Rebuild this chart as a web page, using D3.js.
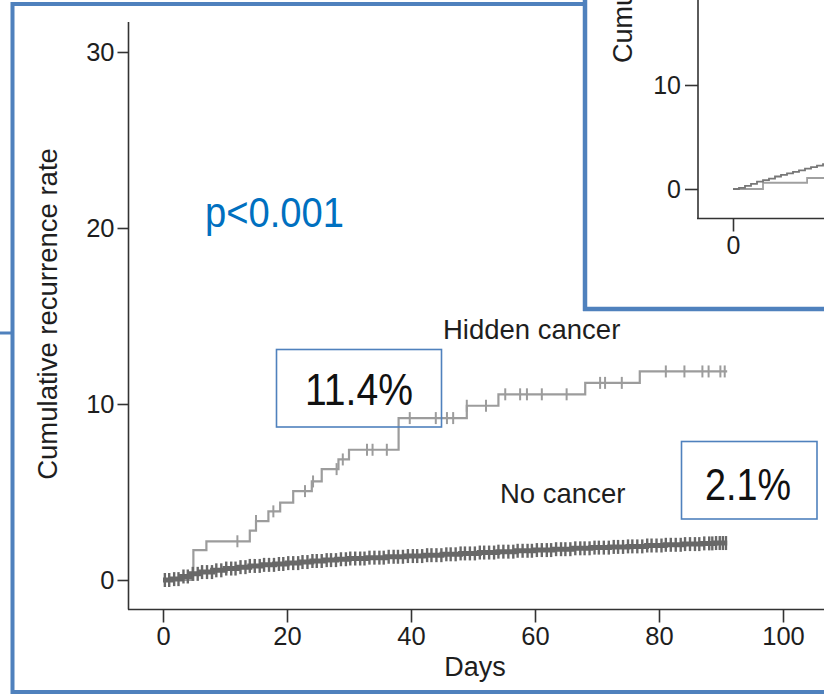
<!DOCTYPE html>
<html>
<head>
<meta charset="utf-8">
<script src="https://cdn.jsdelivr.net/npm/d3@7/dist/d3.min.js"></script>
<style>
  html, body { margin: 0; padding: 0; background: #fff; }
  svg { display: block; }
  text { font-family: "Liberation Sans", Arial, Helvetica, sans-serif; }
</style>
</head>
<body>
<svg id="chart" width="824" height="695"></svg>
<script>
// ---- Data -------------------------------------------------------------
const xTicks = [0, 20, 40, 60, 80, 100];
const yTicks = [0, 10, 20, 30];

// Hidden cancer: Kaplan-Meier style steps [day, cumulative %]
const hiddenSteps = [
  [0, 0], [4.9, 1.7], [7.0, 2.2], [14.0, 2.8], [15.0, 3.35], [17.0, 3.9],
  [18.9, 4.4], [21.0, 5.05], [24.0, 5.6], [25.6, 6.3], [28.3, 6.85],
  [30.0, 7.4], [38.0, 9.2], [49.0, 9.9], [54.1, 10.55], [68.1, 11.2],
  [76.9, 11.85]
];
const hiddenEnd = 91.0;
const hiddenCensor = [
  12.0, 15.0, 17.8, 22.9, 24.2, 28.0, 29.0, 32.9, 33.8, 36.1, 39.8,
  44.0, 45.8, 46.8, 49.0, 52.1, 55.2, 57.6, 58.7, 61.1, 65.1, 70.5,
  71.3, 74.0, 81.1, 84.1, 87.0, 88.0, 89.9, 90.6
];

// No cancer: many small steps
const noCancerSteps = [
  [0, 0], [1.5, 0.05], [3, 0.2], [4.5, 0.35], [6, 0.45], [8, 0.55],
  [10, 0.65], [12, 0.73], [14, 0.8], [16, 0.86], [18, 0.91], [20, 0.96],
  [22, 1.02], [24, 1.08], [26, 1.13], [28, 1.18], [30, 1.22], [33, 1.27],
  [36, 1.32], [39, 1.36], [42, 1.41], [45, 1.46], [48, 1.51], [51, 1.56],
  [54, 1.61], [57, 1.66], [60, 1.7], [63, 1.75], [66, 1.8], [69, 1.84],
  [72, 1.88], [75, 1.91], [78, 1.96], [81, 2.0], [84, 2.04], [87, 2.08],
  [89, 2.1]
];
const noCancerEnd = 91.0;
const noCancerCensor = [
  0.3, 1.0, 1.8, 2.5, 3.3, 4.0, 4.8, 5.6, 6.3, 7.1, 7.9, 8.6, 9.4, 10.2,
  11.0, 11.7, 12.5, 13.3, 14.0, 14.8, 15.6, 16.3, 17.1, 17.9, 18.7, 19.4,
  20.2, 21.0, 21.8, 22.5, 23.3, 24.1, 24.8, 25.6, 26.4, 27.1, 27.9, 28.7,
  29.5, 30.2, 31.0, 31.8, 32.5, 33.3, 34.1, 34.9, 35.6, 36.4, 37.2, 37.9,
  38.7, 39.5, 40.3, 41.0, 41.8, 42.6, 43.3, 44.1, 44.9, 45.7, 46.4, 47.2,
  48.0, 48.7, 49.5, 50.3, 51.1, 51.8, 52.6, 53.4, 54.1, 54.9, 55.7, 56.5,
  57.2, 58.0, 58.8, 59.5, 60.3, 61.1, 61.9, 62.6, 63.4, 64.2, 64.9, 65.7,
  66.5, 67.3, 68.0, 68.8, 69.6, 70.3, 71.1, 71.9, 72.7, 73.4, 74.2, 75.0,
  75.7, 76.5, 77.3, 78.1, 78.8, 79.6, 80.4, 81.1, 81.9, 82.7, 83.5, 84.2,
  85.0, 85.8, 86.5, 87.3, 88.1, 88.6, 89.2, 89.8, 90.3, 90.8
];

const seriesLabels = ["Hidden cancer", "No cancer"];
const rateLabels = ["11.4%", "2.1%"];
const pValueLabel = "p<0.001";

// Inset panel (partially visible)
const insetYTicks = [0, 10];
const insetXTicks = [0];
const insetUpper = [
  [0, 0], [2, 0.1], [4, 0.3], [6, 0.5], [8, 0.7], [10, 0.85], [12, 1.0],
  [14, 1.2], [16, 1.35], [18, 1.5], [20, 1.65], [22, 1.8], [24, 1.95],
  [26, 2.1], [28, 2.25], [30, 2.4], [31, 2.5]
];
const insetLower = [[0, 0], [10, 0.6], [24.7, 1.06]];
const insetEnd = 40;

// ---- Layout -----------------------------------------------------------
const svg = d3.select("#chart");
const frameBlue = "#4f81bd";

const x = d3.scaleLinear().domain([0, 100]).range([163, 783]);
const y = d3.scaleLinear().domain([0, 30]).range([580, 52]);
const axisColor = "#333";
const textColor = "#1e1e1e";

function valueAt(steps, d) {
  const i = d3.bisector(s => s[0]).right(steps, d) - 1;
  return steps[Math.max(0, i)][1];
}

// Outer frame of the panel
const frame = svg.append("g").attr("fill", "none").attr("stroke", frameBlue);
frame.append("line").attr("x1", 11).attr("x2", 600).attr("y1", 4).attr("y2", 4).attr("stroke-width", 4);
frame.append("line").attr("x1", 12.5).attr("x2", 12.5).attr("y1", 2).attr("y2", 694).attr("stroke-width", 4);
frame.append("line").attr("x1", 11).attr("x2", 824).attr("y1", 692).attr("y2", 692).attr("stroke-width", 4);
frame.append("line").attr("x1", 0).attr("x2", 12).attr("y1", 333).attr("y2", 333).attr("stroke-width", 3);

// ---- Axes -------------------------------------------------------------
const axes = svg.append("g");
axes.append("line")
  .attr("x1", 128.5).attr("x2", 128.5)
  .attr("y1", 22).attr("y2", 609.5)
  .attr("stroke", axisColor).attr("stroke-width", 1.6);
axes.append("line")
  .attr("x1", 128).attr("x2", 824)
  .attr("y1", 609.5).attr("y2", 609.5)
  .attr("stroke", axisColor).attr("stroke-width", 1.6);

const yAxis = d3.axisLeft(y).tickValues(yTicks).tickSize(11).tickPadding(3);
const gy = axes.append("g").attr("transform", "translate(128.5,0)").call(yAxis);
gy.select(".domain").remove();
gy.selectAll(".tick line").attr("stroke", axisColor).attr("stroke-width", 1.6);
gy.selectAll(".tick text")
  .attr("fill", textColor).attr("font-size", 25.5)
  .attr("font-family", "'Liberation Sans', Arial, sans-serif");

const xAxis = d3.axisBottom(x).tickValues(xTicks).tickSize(13).tickPadding(4);
const gx = axes.append("g").attr("transform", "translate(0,609.5)").call(xAxis);
gx.select(".domain").remove();
gx.selectAll(".tick line").attr("stroke", axisColor).attr("stroke-width", 1.6);
gx.selectAll(".tick text")
  .attr("fill", textColor).attr("font-size", 25.5)
  .attr("font-family", "'Liberation Sans', Arial, sans-serif");

axes.append("text")
  .attr("x", 475).attr("y", 676)
  .attr("text-anchor", "middle").attr("font-size", 27).attr("fill", textColor)
  .text("Days");

axes.append("text")
  .attr("transform", "translate(57,314) rotate(-90)")
  .attr("text-anchor", "middle").attr("font-size", 27.5).attr("fill", textColor)
  .text("Cumulative recurrence rate");

// ---- Curves -----------------------------------------------------------
const stepLine = d3.line().x(d => x(d[0])).y(d => y(d[1])).curve(d3.curveStepAfter);

function drawSeries(steps, end, censor, color, width, tickH, tickW) {
  const g = svg.append("g");
  const pts = steps.concat([[end, steps[steps.length - 1][1]]]);
  g.append("path").datum(pts)
    .attr("d", stepLine).attr("fill", "none")
    .attr("stroke", color).attr("stroke-width", width);
  g.selectAll("line.censor").data(censor).join("line")
    .attr("class", "censor")
    .attr("x1", d => x(d)).attr("x2", d => x(d))
    .attr("y1", d => y(valueAt(steps, d)) - tickH / 2)
    .attr("y2", d => y(valueAt(steps, d)) + tickH / 2)
    .attr("stroke", color).attr("stroke-width", tickW);
}

drawSeries(hiddenSteps, hiddenEnd, hiddenCensor, "#9c9c9c", 2.2, 12, 2);
drawSeries(noCancerSteps, noCancerEnd, noCancerCensor, "#686868", 5, 14, 2.4);

// ---- Labels -----------------------------------------------------------
svg.append("text")
  .attr("x", 443).attr("y", 339).attr("font-size", 27.5).attr("fill", textColor)
  .text(seriesLabels[0]);
svg.append("text")
  .attr("x", 500).attr("y", 503).attr("font-size", 27.5).attr("fill", textColor)
  .text(seriesLabels[1]);

svg.append("text")
  .attr("x", 205).attr("y", 227)
  .attr("font-family", "'Noto Sans', 'Open Sans', sans-serif")
  .attr("font-size", 43).attr("font-weight", 500).attr("fill", "#0070c0")
  .attr("textLength", 139).attr("lengthAdjust", "spacingAndGlyphs")
  .text(pValueLabel);

const boxes = [
  { label: rateLabels[0], x0: 276.5, y0: 349.5, x1: 441.5, y1: 427, tx: 305, ty: 405, tw: 108 },
  { label: rateLabels[1], x0: 681.5, y0: 441.5, x1: 817, y1: 519, tx: 705, ty: 500, tw: 86 }
];
boxes.forEach(b => {
  svg.append("rect")
    .attr("x", b.x0).attr("y", b.y0)
    .attr("width", b.x1 - b.x0).attr("height", b.y1 - b.y0)
    .attr("fill", "none").attr("stroke", frameBlue).attr("stroke-width", 1.6);
  svg.append("text")
    .attr("x", b.tx).attr("y", b.ty)
    .attr("font-family", "'Noto Sans', 'Open Sans', sans-serif")
    .attr("font-size", 45).attr("fill", "#111")
    .attr("textLength", b.tw).attr("lengthAdjust", "spacingAndGlyphs")
    .text(b.label);
});

// ---- Inset panel ------------------------------------------------------
const inset = svg.append("g");
inset.append("clipPath").attr("id", "insetClip")
  .append("rect").attr("x", 585).attr("y", 0).attr("width", 239).attr("height", 309);
const ig = inset.append("g").attr("clip-path", "url(#insetClip)");
ig.append("rect").attr("x", 585).attr("y", 0).attr("width", 239).attr("height", 309).attr("fill", "#fff");

const ix = d3.scaleLinear().domain([0, 50]).range([733, 883]);
const iy = d3.scaleLinear().domain([0, 10]).range([189, 85]);

ig.append("line").attr("x1", 698).attr("x2", 698).attr("y1", 0).attr("y2", 218.5)
  .attr("stroke", axisColor).attr("stroke-width", 1.6);
ig.append("line").attr("x1", 697).attr("x2", 824).attr("y1", 218.5).attr("y2", 218.5)
  .attr("stroke", axisColor).attr("stroke-width", 1.6);

const iyAxis = d3.axisLeft(iy).tickValues(insetYTicks).tickSize(13).tickPadding(4);
const giy = ig.append("g").attr("transform", "translate(698,0)").call(iyAxis);
giy.select(".domain").remove();
giy.selectAll(".tick line").attr("stroke", axisColor).attr("stroke-width", 1.6);
giy.selectAll(".tick text").attr("fill", textColor).attr("font-size", 25)
  .attr("font-family", "'Liberation Sans', Arial, sans-serif");

const ixAxis = d3.axisBottom(ix).tickValues(insetXTicks).tickSize(13).tickPadding(5);
const gix = ig.append("g").attr("transform", "translate(0,218.5)").call(ixAxis);
gix.select(".domain").remove();
gix.selectAll(".tick line").attr("stroke", axisColor).attr("stroke-width", 1.6);
gix.selectAll(".tick text").attr("fill", textColor).attr("font-size", 25)
  .attr("font-family", "'Liberation Sans', Arial, sans-serif");

ig.append("text")
  .attr("transform", "translate(632,63) rotate(-90)")
  .attr("text-anchor", "start").attr("font-size", 27).attr("fill", textColor)
  .text("Cumulative recurrence rate");

const iLine = d3.line().x(d => ix(d[0])).y(d => iy(d[1])).curve(d3.curveStepAfter);
ig.append("path")
  .datum(insetLower.concat([[insetEnd, insetLower[insetLower.length - 1][1]]]))
  .attr("d", iLine).attr("fill", "none").attr("stroke", "#a0a0a0").attr("stroke-width", 1.8);
ig.append("path")
  .datum(insetUpper.concat([[insetEnd, insetUpper[insetUpper.length - 1][1]]]))
  .attr("d", iLine).attr("fill", "none").attr("stroke", "#777").attr("stroke-width", 1.8);

inset.append("line").attr("x1", 585).attr("x2", 585).attr("y1", 0).attr("y2", 311)
  .attr("stroke", frameBlue).attr("stroke-width", 4.5);
inset.append("line").attr("x1", 583).attr("x2", 824).attr("y1", 309).attr("y2", 309)
  .attr("stroke", frameBlue).attr("stroke-width", 4.5);
</script>
</body>
</html>
